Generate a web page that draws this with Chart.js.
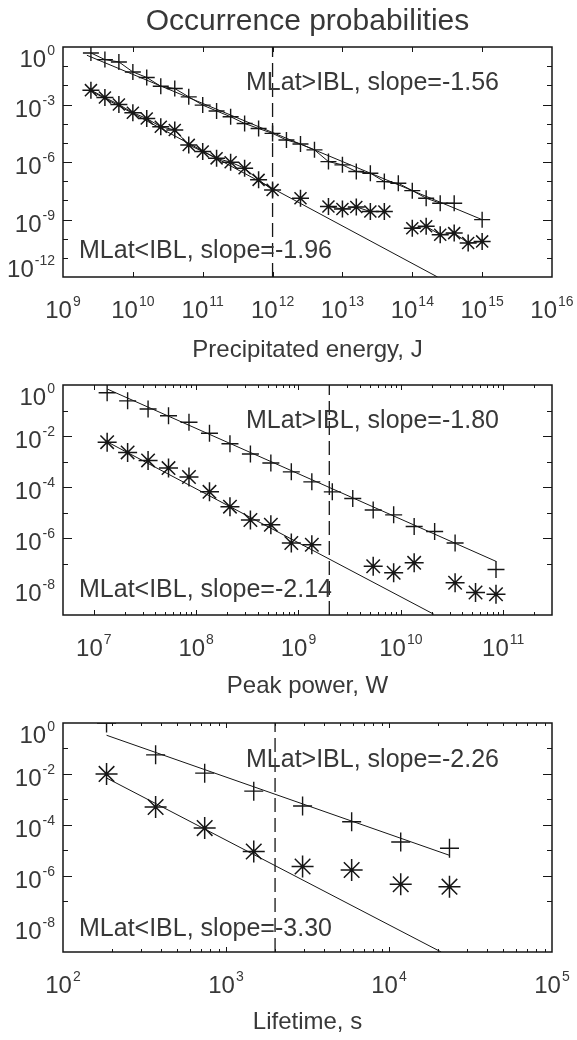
<!DOCTYPE html>
<html>
<head>
<meta charset="utf-8">
<script src="https://cdn.jsdelivr.net/npm/chart.js@4"></script>
<style>
  body { margin: 0; background: #fff; }
  #wrap { position: relative; width: 577px; height: 1040px; }
  canvas { position: absolute; left: 0; }
</style>
</head>
<body>
<div id="wrap">
  <canvas id="c1" width="577" height="365" style="top:0px"></canvas>
  <canvas id="c2" width="577" height="335" style="top:365px"></canvas>
  <canvas id="c3" width="577" height="340" style="top:700px"></canvas>
</div>
<script>
// panel 1: precipitated energy, J
var energyBins = [2.51e9, 3.98e9, 6.31e9, 1.00e10, 1.58e10, 2.51e10, 3.98e10, 6.31e10, 1.00e11, 1.58e11,
                  2.51e11, 3.98e11, 6.31e11, 1.00e12, 1.58e12, 2.51e12, 3.98e12, 6.31e12, 1.00e13, 1.58e13,
                  2.51e13, 3.98e13, 6.31e13, 1.00e14, 1.58e14, 2.51e14, 3.98e14, 6.31e14, 1.00e15];
var energyAbove = [0.49, 0.22, 0.166, 0.050, 0.0257, 0.0089, 0.0068, 0.0025, 9.3e-4, 4.6e-4,
                   2.3e-4, 1.02e-4, 5.6e-5, 3.1e-5, 1.41e-5, 8.7e-6, 4.3e-6, 1.05e-6, 7.1e-7, 3.2e-7,
                   2.6e-7, 9.5e-8, 7.8e-8, 3.2e-8, 1.29e-8, 7.1e-9, 7.1e-9, null, 9.8e-10];
var energyBelow = [5.6e-3, 2.3e-3, 1.0e-3, 3.7e-4, 1.86e-4, 6.9e-5, 4.7e-5, 7.8e-6, 3.5e-6, 1.55e-6,
                   9.8e-7, 4.7e-7, 1.17e-7, 3.5e-8, null, 1.29e-8, null, 4.8e-9, 3.5e-9, 4.5e-9,
                   2.6e-9, 2.6e-9, null, 3.5e-10, 4.4e-10, 1.6e-10, 1.95e-10, 5.9e-11, 7.2e-11];
var energyFitAboveX = [2.2e9, 1.0e15], energyFitAboveY = [0.37, 9.8e-10];
var energyFitBelowX = [2.4e9, 2.3e14], energyFitBelowY = [5.6e-3, 1.0e-12];
var energyCut = 1e12;

// panel 2: peak power, W
var powerBins = [1.35e7, 2.14e7, 3.39e7, 5.37e7, 8.51e7, 1.35e8, 2.14e8, 3.39e8, 5.37e8, 8.51e8,
                 1.35e9, 2.14e9, 3.39e9, 5.37e9, 8.51e9, 1.35e10, 2.14e10, 3.39e10, 5.37e10, 8.51e10];
var powerAbove = [0.50, 0.24, 0.115, 0.063, 0.035, 0.0129, 0.0050, 0.0020, 8.9e-4, 4.0e-4,
                  1.62e-4, 6.6e-5, 3.6e-5, 1.29e-5, 8.3e-6, 2.9e-6, 1.86e-6, 6.6e-7, null, 6.0e-8];
var powerBelow = [5.8e-3, 2.3e-3, 1.12e-3, 5.6e-4, 2.5e-4, 6.6e-5, 1.74e-5, 5.2e-6, 3.4e-6, 6.6e-7,
                  5.6e-7, null, null, 8.1e-8, 4.5e-8, 1.10e-7, null, 1.82e-8, 7.6e-9, 6.5e-9];
var powerFitAboveX = [1.37e7, 8.5e10], powerFitAboveY = [0.68, 1.26e-7];
var powerFitBelowX = [1.37e7, 2.1e10], powerFitBelowY = [5.8e-3, 1.07e-9];
var powerCut = 2e9;

// panel 3: lifetime, s
var lifeBins = [185, 370, 740, 1480, 2950, 5900, 11800, 23500];
var lifeAbove = [1.0, 0.056, 0.0107, 2.1e-3, 5.5e-4, 1.32e-4, 2.1e-5, 1.2e-5];
var lifeBelow = [0.0100, 5.0e-4, 7.4e-5, 8.9e-6, 2.3e-6, 1.66e-6, 4.6e-7, 3.7e-7];
var lifeFitAboveX = [185, 23500], lifeFitAboveY = [0.33, 6.3e-6];
var lifeFitBelowX = [185, 20900], lifeFitBelowY = [6.9e-3, 1.0e-9];
var lifeCut = 2000;

var FONT = 'Helvetica, "Liberation Sans", Arial, sans-serif';
var INK = '#161616';
var TEXT = '#383838';

function pts(xs, ys) {
    var out = [];
    for (var i = 0; i < xs.length; i++) {
        out.push({x: xs[i], y: ys[i]});
    }
    return out;
}

// "10" with a raised exponent
function powLabel(ctx, exp, x, base, centred) {
    ctx.font = '24px ' + FONT;
    var w1 = ctx.measureText('10').width;
    ctx.font = '14px ' + FONT;
    var w2 = ctx.measureText(exp).width;
    var w = w1 + 1 + w2;
    var x0 = centred ? x - w / 2 : x - w;
    ctx.font = '24px ' + FONT;
    ctx.fillText('10', x0, base);
    ctx.font = '14px ' + FONT;
    ctx.fillText(exp, x0 + w1 + 1, base - 12);
}

// IDL-like box, inner ticks and labels
var logAxes = {
    id: 'logAxes',
    afterDatasetsDraw: function (chart, args, o) {
        var ctx = chart.ctx, a = chart.chartArea;
        var xs = chart.scales.x, ys = chart.scales.y;
        ctx.save();
        ctx.strokeStyle = INK;
        ctx.lineWidth = 1;
        ctx.beginPath();
        for (var d = o.xFrom; d <= o.xTo; d++) {
            for (var m = 1; m < 10; m++) {
                if (m > 1 && !o.xMinor) break;
                var v = m * Math.pow(10, d);
                if (v <= xs.min || v >= xs.max) continue;
                var px = Math.round(xs.getPixelForValue(v)) + 0.5;
                var len = m === 1 ? 5 : 3;
                ctx.moveTo(px, a.bottom); ctx.lineTo(px, a.bottom - len);
                ctx.moveTo(px, a.top); ctx.lineTo(px, a.top + len);
            }
        }
        for (d = o.yFrom + 1; d < 0; d++) {
            var py = Math.round(ys.getPixelForValue(Math.pow(10, d))) + 0.5;
            var ln = d % o.yStep === 0 ? 9 : 5;
            ctx.moveTo(a.left, py); ctx.lineTo(a.left + ln, py);
            ctx.moveTo(a.right, py); ctx.lineTo(a.right - ln, py);
        }
        ctx.stroke();
        ctx.lineWidth = 1.5;
        ctx.strokeRect(a.left, a.top, a.right - a.left, a.bottom - a.top);

        ctx.fillStyle = TEXT;
        ctx.textAlign = 'left';
        ctx.textBaseline = 'alphabetic';
        for (d = o.xFrom; d <= o.xTo; d++) {
            powLabel(ctx, String(d), xs.getPixelForValue(Math.pow(10, d)), a.bottom + 41, true);
        }
        for (d = o.yFrom; d <= 0; d += o.yStep) {
            var y = ys.getPixelForValue(Math.pow(10, d));
            var shift = d === 0 ? 20 : (d === o.yFrom && o.yLowShift !== undefined ? o.yLowShift : 12);
            powLabel(ctx, String(d), 55, y + shift, false);
        }

        ctx.font = '25px ' + FONT;
        o.notes.forEach(function (n) {
            ctx.fillText(n[0], n[1], n[2]);
        });
        ctx.textAlign = 'center';
        ctx.font = '24px ' + FONT;
        ctx.fillText(o.xTitle, (a.left + a.right) / 2, o.xTitleY);
        if (o.title) {
            ctx.font = '30px ' + FONT;
            ctx.fillText(o.title, (a.left + a.right) / 2, 30);
        }
        ctx.restore();
    }
};

function panel(id, p) {
    var cut = [{x: p.cut, y: p.yMin}, {x: p.cut, y: 1}];
    new Chart(document.getElementById(id), {
        type: 'scatter',
        data: {
            datasets: [
                {data: cut, showLine: true, borderColor: INK, borderWidth: 1.3, borderDash: [14, 6], pointRadius: 0},
                {data: pts(p.fitAX, p.fitAY), showLine: true, borderColor: INK, borderWidth: 1, pointRadius: 0},
                {data: pts(p.fitBX, p.fitBY), showLine: true, borderColor: INK, borderWidth: 1, pointRadius: 0},
                {data: pts(p.bins, p.above), showLine: p.joined, borderColor: INK, borderWidth: 1,
                 pointStyle: 'cross', pointRadius: p.plusR, pointBorderWidth: 1.4, pointBorderColor: INK},
                {data: pts(p.bins, p.below), showLine: p.joined, borderColor: INK, borderWidth: 1,
                 pointStyle: 'star', pointRadius: p.starR, pointBorderWidth: 1.5, pointBorderColor: INK}
            ]
        },
        options: {
            responsive: false,
            animation: false,
            layout: {padding: p.pad},
            scales: {
                x: {type: 'logarithmic', min: p.xMin, max: p.xMax, display: false},
                y: {type: 'logarithmic', min: p.yMin, max: 1, display: false}
            },
            plugins: {
                legend: {display: false},
                tooltip: {enabled: false},
                logAxes: p.deco
            }
        },
        plugins: [logAxes]
    });
}

panel('c1', {
    bins: energyBins, above: energyAbove, below: energyBelow,
    fitAX: energyFitAboveX, fitAY: energyFitAboveY, fitBX: energyFitBelowX, fitBY: energyFitBelowY,
    cut: energyCut, xMin: 1e9, xMax: 1e16, yMin: 1e-12, joined: true, plusR: 8, starR: 8.5,
    pad: {left: 63, right: 25, top: 47, bottom: 88},
    deco: {xFrom: 9, xTo: 16, xMinor: false, yFrom: -12, yStep: 3, yLowShift: 0,
           title: 'Occurrence probabilities', xTitle: 'Precipitated energy, J', xTitleY: 357,
           notes: [['MLat>IBL, slope=-1.56', 246, 90], ['MLat<IBL, slope=-1.96', 79, 258]]}
});

panel('c2', {
    bins: powerBins, above: powerAbove, below: powerBelow,
    fitAX: powerFitAboveX, fitAY: powerFitAboveY, fitBX: powerFitBelowX, fitBY: powerFitBelowY,
    cut: powerCut, xMin: 5e6, xMax: 3e11, yMin: 1e-9, joined: false, plusR: 8.5, starR: 9.5,
    pad: {left: 63, right: 25, top: 20, bottom: 85},
    deco: {xFrom: 7, xTo: 11, xMinor: true, yFrom: -8, yStep: 2,
           xTitle: 'Peak power, W', xTitleY: 328,
           notes: [['MLat>IBL, slope=-1.80', 246, 63], ['MLat<IBL, slope=-2.14', 79, 232]]}
});

panel('c3', {
    bins: lifeBins, above: lifeAbove, below: lifeBelow,
    fitAX: lifeFitAboveX, fitAY: lifeFitAboveY, fitBX: lifeFitBelowX, fitBY: lifeFitBelowY,
    cut: lifeCut, xMin: 1e2, xMax: 1e5, yMin: 1e-9, joined: false, plusR: 9.5, starR: 11,
    pad: {left: 63, right: 25, top: 23, bottom: 88},
    deco: {xFrom: 2, xTo: 5, xMinor: true, yFrom: -8, yStep: 2,
           xTitle: 'Lifetime, s', xTitleY: 329,
           notes: [['MLat>IBL, slope=-2.26', 246, 67], ['MLat<IBL, slope=-3.30', 79, 236]]}
});
</script>
</body>
</html>
